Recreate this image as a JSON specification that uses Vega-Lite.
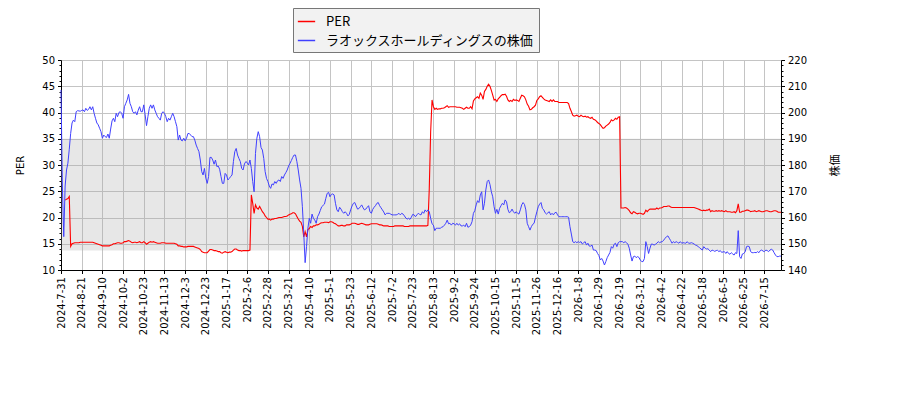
{
"$schema":"https://vega.github.io/schema/vega-lite/v6.json",
"width":720,"height":210,
"autosize":{"type":"none"},
"padding":{"left":61,"top":60,"right":119,"bottom":130},
"background":"white",
"config":{"font":"DejaVu Sans","view":{"stroke":null},
"axis":{"labelFont":"DejaVu Sans","labelFontSize":10,"labelColor":"#000","titleFont":"DejaVu Sans, Noto Sans CJK JP","titleFontSize":10,"titleFontWeight":"normal","titleColor":"#000","tickColor":"#000","domainColor":"#000","tickSize":3.5,"labelPadding":3,"gridColor":"#c4c4c4","gridWidth":1}},
"datasets":{
"band":[{"x0":0,"x1":522,"lo":13.7,"hi":35}],
"series":[
{"day":0,"per":null,"price":208.6},{"day":1,"per":null,"price":172},{"day":2,"per":null,"price":152.7},{"day":3,"per":23.3,"price":172},{"day":4,"per":23.5,"price":178.1},{"day":5,"per":23.6,"price":180.7},{"day":6,"per":24.0,"price":186.0},{"day":7,"per":14.5,"price":192.0},{"day":8,"per":15.0,"price":196.0},{"day":9,"per":15.1,"price":197.1},
{"day":10,"per":15.2,"price":196.5},{"day":11,"per":15.2,"price":200.3},{"day":12,"per":15.2,"price":200.7},{"day":13,"per":15.2,"price":200.6},{"day":14,"per":15.3,"price":200.5},{"day":15,"per":15.3,"price":200.8},{"day":16,"per":15.3,"price":201.0},{"day":17,"per":15.3,"price":200.3},{"day":18,"per":15.3,"price":201.6},{"day":19,"per":15.3,"price":200.8},
{"day":20,"per":15.3,"price":201.2},{"day":21,"per":15.3,"price":202.2},{"day":22,"per":15.3,"price":201.0},{"day":23,"per":15.3,"price":202.2},{"day":24,"per":15.2,"price":199.7},{"day":25,"per":15.1,"price":197.8},{"day":26,"per":15.0,"price":196.0},{"day":27,"per":14.9,"price":195.3},{"day":28,"per":14.8,"price":194.0},{"day":29,"per":14.7,"price":192.7},
{"day":30,"per":14.6,"price":190.2},{"day":31,"per":14.6,"price":191.4},{"day":32,"per":14.6,"price":190.8},{"day":33,"per":14.6,"price":190.5},{"day":34,"per":14.6,"price":191.8},{"day":35,"per":14.6,"price":190.2},{"day":36,"per":14.7,"price":193.7},{"day":37,"per":14.8,"price":196.8},{"day":38,"per":15.0,"price":197.8},{"day":39,"per":15.0,"price":196.5},
{"day":40,"per":15.1,"price":199.7},{"day":41,"per":15.2,"price":198.4},{"day":42,"per":15.2,"price":200.0},{"day":43,"per":15.1,"price":200.3},{"day":44,"per":15.1,"price":199.7},{"day":45,"per":15.2,"price":197.8},{"day":46,"per":15.4,"price":202.2},{"day":47,"per":15.4,"price":203.5},{"day":48,"per":15.5,"price":204.8},{"day":49,"per":15.6,"price":206.9},
{"day":50,"per":15.5,"price":203.5},{"day":51,"per":15.3,"price":202.2},{"day":52,"per":15.2,"price":200.3},{"day":53,"per":15.3,"price":199.7},{"day":54,"per":15.3,"price":200.3},{"day":55,"per":15.2,"price":199.1},{"day":56,"per":15.3,"price":200.9},{"day":57,"per":15.4,"price":202.2},{"day":58,"per":15.2,"price":200.3},{"day":59,"per":15.2,"price":200.3},
{"day":60,"per":15.4,"price":202.9},{"day":61,"per":15.2,"price":199.1},{"day":62,"per":14.9,"price":195.0},{"day":63,"per":15.1,"price":198.4},{"day":64,"per":15.3,"price":201.6},{"day":65,"per":15.4,"price":202.9},{"day":66,"per":15.3,"price":201.6},{"day":67,"per":15.4,"price":202.9},{"day":68,"per":15.3,"price":201.0},{"day":69,"per":15.2,"price":199.7},
{"day":70,"per":15.1,"price":198.4},{"day":71,"per":15.1,"price":197.8},{"day":72,"per":15.1,"price":197.1},{"day":73,"per":15.2,"price":199.7},{"day":74,"per":15.2,"price":200.3},{"day":75,"per":15.2,"price":199.7},{"day":76,"per":15.1,"price":198.4},{"day":77,"per":15.1,"price":196.5},{"day":78,"per":15.1,"price":197.8},{"day":79,"per":15.1,"price":197.1},
{"day":80,"per":15.1,"price":198.4},{"day":81,"per":15.1,"price":199.7},{"day":82,"per":15.1,"price":198.4},{"day":83,"per":15.0,"price":196.5},{"day":84,"per":14.9,"price":194.6},{"day":85,"per":14.6,"price":189.5},{"day":86,"per":14.6,"price":191.4},{"day":87,"per":14.5,"price":189.5},{"day":88,"per":14.5,"price":189.2},{"day":89,"per":14.4,"price":190.2},
{"day":90,"per":14.4,"price":189.2},{"day":91,"per":14.4,"price":190.2},{"day":92,"per":14.5,"price":192.0},{"day":93,"per":14.5,"price":192.0},{"day":94,"per":14.5,"price":191.4},{"day":95,"per":14.5,"price":190.8},{"day":96,"per":14.5,"price":190.8},{"day":97,"per":14.4,"price":189.5},{"day":98,"per":14.3,"price":187.6},{"day":99,"per":14.2,"price":186.3},
{"day":100,"per":14.1,"price":185.1},{"day":101,"per":13.9,"price":181.9},{"day":102,"per":13.5,"price":177.5},{"day":103,"per":13.4,"price":176.2},{"day":104,"per":13.3,"price":178.7},{"day":105,"per":13.3,"price":175.0},{"day":106,"per":13.3,"price":173.0},{"day":107,"per":13.6,"price":175.6},{"day":108,"per":13.9,"price":182.9},{"day":109,"per":13.9,"price":182.9},
{"day":110,"per":13.8,"price":181.9},{"day":111,"per":13.7,"price":180.3},{"day":112,"per":13.7,"price":181.9},{"day":113,"per":13.6,"price":179.4},{"day":114,"per":13.5,"price":179.6},{"day":115,"per":13.5,"price":178.4},{"day":116,"per":13.3,"price":175.6},{"day":117,"per":13.2,"price":173.0},{"day":118,"per":13.4,"price":173.0},{"day":119,"per":13.5,"price":176.8},
{"day":120,"per":13.4,"price":176.2},{"day":121,"per":13.3,"price":174.3},{"day":122,"per":13.4,"price":174.9},{"day":123,"per":13.4,"price":175.6},{"day":124,"per":13.5,"price":176.2},{"day":125,"per":13.8,"price":181.3},{"day":126,"per":14.0,"price":185.1},{"day":127,"per":14.0,"price":186.3},{"day":128,"per":13.8,"price":183.8},{"day":129,"per":13.7,"price":182.5},
{"day":130,"per":13.7,"price":181.3},{"day":131,"per":13.6,"price":178.7},{"day":132,"per":13.7,"price":178.1},{"day":133,"per":13.7,"price":180.4},{"day":134,"per":13.7,"price":181.3},{"day":135,"per":13.7,"price":180.9},{"day":136,"per":13.7,"price":180.0},{"day":137,"per":13.8,"price":181.9},{"day":138,"per":24.3,"price":178.7},{"day":139,"per":22.7,"price":173.7},
{"day":140,"per":20.8,"price":169.8},{"day":141,"per":22.4,"price":184.4},{"day":142,"per":21.8,"price":190.2},{"day":143,"per":21.6,"price":192.7},{"day":144,"per":22.1,"price":190.8},{"day":145,"per":21.6,"price":186.7},{"day":146,"per":21.1,"price":185.7},{"day":147,"per":20.8,"price":182.5},{"day":148,"per":20.3,"price":177.5},{"day":149,"per":20.0,"price":174.9},
{"day":150,"per":19.7,"price":173.7},{"day":151,"per":19.7,"price":172.0},{"day":152,"per":19.5,"price":171.1},{"day":153,"per":19.7,"price":172.8},{"day":154,"per":19.7,"price":172.4},{"day":155,"per":19.8,"price":173.7},{"day":156,"per":19.8,"price":173.0},{"day":157,"per":19.9,"price":174.0},{"day":158,"per":20.0,"price":174.3},{"day":159,"per":20.0,"price":173.7},
{"day":160,"per":20.0,"price":175.6},{"day":161,"per":20.1,"price":174.9},{"day":162,"per":20.2,"price":176.2},{"day":163,"per":20.2,"price":177.1},{"day":164,"per":20.3,"price":178.1},{"day":165,"per":20.5,"price":179.6},{"day":166,"per":20.6,"price":180.6},{"day":167,"per":20.7,"price":181.7},{"day":168,"per":20.9,"price":182.9},{"day":169,"per":20.9,"price":183.8},
{"day":170,"per":20.7,"price":183.8},{"day":171,"per":20.2,"price":181.3},{"day":172,"per":19.7,"price":178.1},{"day":173,"per":19.3,"price":174.3},{"day":174,"per":19.1,"price":171.1},{"day":175,"per":18.3,"price":164.1},{"day":176,"per":16.3,"price":154.0},{"day":177,"per":17.3,"price":142.8},{"day":178,"per":16.3,"price":148.9},{"day":179,"per":17.7,"price":155.9},
{"day":180,"per":17.9,"price":159.7},{"day":181,"per":18.3,"price":157.8},{"day":182,"per":18.1,"price":161.3},{"day":183,"per":18.4,"price":159.7},{"day":184,"per":18.4,"price":159.0},{"day":185,"per":18.6,"price":157.8},{"day":186,"per":18.6,"price":160.3},{"day":187,"per":18.7,"price":161.3},{"day":188,"per":18.9,"price":162.7},{"day":189,"per":19.0,"price":164.1},
{"day":190,"per":19.0,"price":164.6},{"day":191,"per":19.1,"price":165.1},{"day":192,"per":19.1,"price":167.3},{"day":193,"per":19.1,"price":169.2},{"day":194,"per":19.0,"price":169.6},{"day":195,"per":19.2,"price":167.9},{"day":196,"per":19.2,"price":168.8},{"day":197,"per":19.1,"price":169.0},{"day":198,"per":18.9,"price":168.6},{"day":199,"per":18.8,"price":165.4},
{"day":200,"per":18.6,"price":162.9},{"day":201,"per":18.4,"price":162.2},{"day":202,"per":18.4,"price":163.9},{"day":203,"per":18.5,"price":163.2},{"day":204,"per":18.5,"price":162.2},{"day":205,"per":18.4,"price":161.6},{"day":206,"per":18.4,"price":162.2},{"day":207,"per":18.6,"price":161.6},{"day":208,"per":18.6,"price":160.6},{"day":209,"per":18.6,"price":161.2},
{"day":210,"per":18.7,"price":162.9},{"day":211,"per":18.9,"price":164.4},{"day":212,"per":18.9,"price":165.4},{"day":213,"per":18.9,"price":165.7},{"day":214,"per":18.8,"price":164.4},{"day":215,"per":18.7,"price":163.2},{"day":216,"per":18.7,"price":163.4},{"day":217,"per":18.8,"price":164.1},{"day":218,"per":18.9,"price":164.8},{"day":219,"per":18.8,"price":163.7},
{"day":220,"per":18.7,"price":162.9},{"day":221,"per":18.6,"price":163.2},{"day":222,"per":18.6,"price":163.9},{"day":223,"per":18.6,"price":164.5},{"day":224,"per":18.7,"price":162.2},{"day":225,"per":18.8,"price":161.6},{"day":226,"per":18.8,"price":163.1},{"day":227,"per":18.8,"price":163.9},{"day":228,"per":18.8,"price":164.5},{"day":229,"per":18.8,"price":165.4},
{"day":230,"per":18.7,"price":165.7},{"day":231,"per":18.6,"price":164.5},{"day":232,"per":18.6,"price":163.7},{"day":233,"per":18.5,"price":162.9},{"day":234,"per":18.4,"price":162.1},{"day":235,"per":18.4,"price":161.0},{"day":236,"per":18.4,"price":161.6},{"day":237,"per":18.4,"price":161.6},{"day":238,"per":18.3,"price":161.6},{"day":239,"per":18.3,"price":161.3},
{"day":240,"per":18.3,"price":161.0},{"day":241,"per":18.3,"price":161.0},{"day":242,"per":18.4,"price":161.0},{"day":243,"per":18.4,"price":161.0},{"day":244,"per":18.4,"price":161.2},{"day":245,"per":18.4,"price":161.6},{"day":246,"per":18.4,"price":161.0},{"day":247,"per":18.4,"price":161.6},{"day":248,"per":18.4,"price":161.3},{"day":249,"per":18.3,"price":160.6},
{"day":250,"per":18.3,"price":159.8},{"day":251,"per":18.3,"price":159.4},{"day":252,"per":18.3,"price":159.7},{"day":253,"per":18.4,"price":159.3},{"day":254,"per":18.4,"price":160.1},{"day":255,"per":18.4,"price":161.2},{"day":256,"per":18.4,"price":161.0},{"day":257,"per":18.4,"price":160.3},{"day":258,"per":18.4,"price":161.0},{"day":259,"per":18.4,"price":161.6},
{"day":260,"per":18.4,"price":161.2},{"day":261,"per":18.4,"price":161.0},{"day":262,"per":18.4,"price":162.2},{"day":263,"per":18.4,"price":161.6},{"day":264,"per":18.4,"price":162.9},{"day":265,"per":18.4,"price":162.2},{"day":266,"per":18.5,"price":162.9},{"day":267,"per":25.5,"price":162.2},{"day":268,"per":36.3,"price":159.7},{"day":269,"per":42.4,"price":157.6},
{"day":270,"per":41.1,"price":157.1},{"day":271,"per":40.6,"price":155.0},{"day":272,"per":40.8,"price":155.9},{"day":273,"per":40.6,"price":155.9},{"day":274,"per":40.7,"price":155.9},{"day":275,"per":40.7,"price":155.9},{"day":276,"per":40.8,"price":156.3},{"day":277,"per":40.8,"price":156.5},{"day":278,"per":40.9,"price":157.1},{"day":279,"per":41.1,"price":157.8},
{"day":280,"per":41.3,"price":159.0},{"day":281,"per":41.0,"price":157.6},{"day":282,"per":41.1,"price":157.8},{"day":283,"per":41.1,"price":157.1},{"day":284,"per":41.1,"price":157.8},{"day":285,"per":41.1,"price":157.6},{"day":286,"per":41.1,"price":157.1},{"day":287,"per":41.0,"price":157.8},{"day":288,"per":41.0,"price":157.1},{"day":289,"per":41.0,"price":157.6},
{"day":290,"per":40.9,"price":156.8},{"day":291,"per":40.8,"price":156.8},{"day":292,"per":40.6,"price":157.1},{"day":293,"per":40.8,"price":156.5},{"day":294,"per":41.0,"price":157.8},{"day":295,"per":40.8,"price":156.3},{"day":296,"per":40.8,"price":156.5},{"day":297,"per":41.1,"price":157.1},{"day":298,"per":40.7,"price":158.4},{"day":299,"per":42.2,"price":161.6},
{"day":300,"per":42.6,"price":162.6},{"day":301,"per":42.8,"price":164.8},{"day":302,"per":43.0,"price":166.4},{"day":303,"per":42.7,"price":165.7},{"day":304,"per":43.7,"price":168.6},{"day":305,"per":43.3,"price":169.8},{"day":306,"per":42.5,"price":162.9},{"day":307,"per":44.0,"price":165.4},{"day":308,"per":44.4,"price":170.5},{"day":309,"per":45.0,"price":173.7},
{"day":310,"per":45.4,"price":174.3},{"day":311,"per":45.0,"price":172.6},{"day":312,"per":44.2,"price":169.8},{"day":313,"per":43.3,"price":167.9},{"day":314,"per":42.4,"price":164.1},{"day":315,"per":42.5,"price":161.6},{"day":316,"per":42.1,"price":163.1},{"day":317,"per":42.6,"price":161.3},{"day":318,"per":42.9,"price":163.5},{"day":319,"per":43.2,"price":164.5},
{"day":320,"per":43.4,"price":165.4},{"day":321,"per":43.4,"price":164.8},{"day":322,"per":43.5,"price":166.7},{"day":323,"per":43.1,"price":166.0},{"day":324,"per":42.4,"price":163.1},{"day":325,"per":42.1,"price":161.8},{"day":326,"per":42.3,"price":162.2},{"day":327,"per":42.1,"price":163.2},{"day":328,"per":42.5,"price":162.2},{"day":329,"per":42.3,"price":161.6},
{"day":330,"per":42.4,"price":162.2},{"day":331,"per":42.3,"price":161.6},{"day":332,"per":42.1,"price":161.3},{"day":333,"per":42.7,"price":162.9},{"day":334,"per":43.3,"price":164.8},{"day":335,"per":43.2,"price":165.7},{"day":336,"per":43.0,"price":165.0},{"day":337,"per":42.4,"price":162.9},{"day":338,"per":41.6,"price":157.8},{"day":339,"per":41.2,"price":156.5},
{"day":340,"per":40.5,"price":155.2},{"day":341,"per":40.6,"price":156.5},{"day":342,"per":40.9,"price":157.4},{"day":343,"per":41.1,"price":157.8},{"day":344,"per":41.4,"price":160.1},{"day":345,"per":42.3,"price":162.2},{"day":346,"per":42.6,"price":164.1},{"day":347,"per":43.0,"price":165.1},{"day":348,"per":43.2,"price":165.7},{"day":349,"per":42.9,"price":163.5},
{"day":350,"per":42.6,"price":162.9},{"day":351,"per":42.4,"price":161.8},{"day":352,"per":42.3,"price":161.3},{"day":353,"per":42.2,"price":161.8},{"day":354,"per":42.1,"price":162.2},{"day":355,"per":42.4,"price":161.0},{"day":356,"per":42.1,"price":161.6},{"day":357,"per":42.4,"price":161.0},{"day":358,"per":42.1,"price":161.8},{"day":359,"per":42.1,"price":162.0},
{"day":360,"per":42.1,"price":161.0},{"day":361,"per":41.9,"price":160.3},{"day":362,"per":41.9,"price":160.3},{"day":363,"per":41.9,"price":160.3},{"day":364,"per":41.9,"price":160.3},{"day":365,"per":41.9,"price":160.3},{"day":366,"per":41.9,"price":160.3},{"day":367,"per":41.9,"price":160.3},{"day":368,"per":41.7,"price":160.1},{"day":369,"per":40.8,"price":156.5},
{"day":370,"per":40.2,"price":153.7},{"day":371,"per":39.5,"price":150.8},{"day":372,"per":39.3,"price":150.4},{"day":373,"per":39.4,"price":150.8},{"day":374,"per":39.5,"price":150.4},{"day":375,"per":39.3,"price":150.8},{"day":376,"per":39.2,"price":150.5},{"day":377,"per":39.5,"price":150.8},{"day":378,"per":39.3,"price":149.9},{"day":379,"per":39.2,"price":150.4},
{"day":380,"per":39.3,"price":150.8},{"day":381,"per":39.1,"price":149.5},{"day":382,"per":39.2,"price":150.2},{"day":383,"per":39.0,"price":149.1},{"day":384,"per":38.9,"price":149.1},{"day":385,"per":39.1,"price":149.5},{"day":386,"per":38.7,"price":147.6},{"day":387,"per":38.6,"price":147.6},{"day":388,"per":38.4,"price":147.4},{"day":389,"per":38.1,"price":146.3},
{"day":390,"per":37.9,"price":145.5},{"day":391,"per":37.7,"price":143.8},{"day":392,"per":37.3,"price":144.4},{"day":393,"per":37.0,"price":143.4},{"day":394,"per":37.1,"price":141.9},{"day":395,"per":37.4,"price":143.2},{"day":396,"per":37.6,"price":144.7},{"day":397,"per":37.8,"price":145.7},{"day":398,"per":38.1,"price":146.7},{"day":399,"per":38.6,"price":148.9},
{"day":400,"per":38.4,"price":148.3},{"day":401,"per":38.6,"price":149.8},{"day":402,"per":38.9,"price":150.2},{"day":403,"per":38.7,"price":148.9},{"day":404,"per":39.1,"price":150.4},{"day":405,"per":39.2,"price":150.8},{"day":406,"per":21.8,"price":150.8},{"day":407,"per":21.8,"price":150.8},{"day":408,"per":21.8,"price":150.4},{"day":409,"per":21.9,"price":150.8},
{"day":410,"per":21.8,"price":150.4},{"day":411,"per":21.6,"price":149.8},{"day":412,"per":21.3,"price":148.3},{"day":413,"per":20.9,"price":145.7},{"day":414,"per":20.7,"price":143.4},{"day":415,"per":21.1,"price":145.1},{"day":416,"per":21.0,"price":145.3},{"day":417,"per":20.8,"price":144.7},{"day":418,"per":20.7,"price":145.1},{"day":419,"per":20.8,"price":144.8},
{"day":420,"per":20.8,"price":143.8},{"day":421,"per":20.7,"price":143.2},{"day":422,"per":20.6,"price":143.2},{"day":423,"per":20.8,"price":144.4},{"day":424,"per":21.4,"price":150.8},{"day":425,"per":21.1,"price":148.9},{"day":426,"per":21.4,"price":146.3},{"day":427,"per":21.6,"price":148.3},{"day":428,"per":21.6,"price":149.9},{"day":429,"per":21.6,"price":149.8},
{"day":430,"per":21.6,"price":149.5},{"day":431,"per":21.6,"price":149.8},{"day":432,"per":21.8,"price":150.2},{"day":433,"per":21.6,"price":150.8},{"day":434,"per":21.8,"price":150.4},{"day":435,"per":21.8,"price":150.7},{"day":436,"per":21.9,"price":150.8},{"day":437,"per":22.1,"price":151.4},{"day":438,"per":22.1,"price":152.1},{"day":439,"per":22.1,"price":152.7},
{"day":440,"per":22.2,"price":153.0},{"day":441,"per":22.2,"price":152.1},{"day":442,"per":22.0,"price":151.2},{"day":443,"per":21.9,"price":150.2},{"day":444,"per":21.9,"price":150.8},{"day":445,"per":21.9,"price":150.4},{"day":446,"per":21.9,"price":150.8},{"day":447,"per":21.9,"price":150.5},{"day":448,"per":21.9,"price":150.2},{"day":449,"per":21.9,"price":150.8},
{"day":450,"per":21.9,"price":150.2},{"day":451,"per":21.9,"price":150.4},{"day":452,"per":21.9,"price":150.3},{"day":453,"per":21.9,"price":150.2},{"day":454,"per":21.9,"price":150.8},{"day":455,"per":21.9,"price":150.2},{"day":456,"per":21.9,"price":150.2},{"day":457,"per":21.9,"price":150.4},{"day":458,"per":21.9,"price":150.2},{"day":459,"per":21.9,"price":149.9},
{"day":460,"per":21.8,"price":149.5},{"day":461,"per":21.7,"price":149.3},{"day":462,"per":21.6,"price":148.9},{"day":463,"per":21.5,"price":148.5},{"day":464,"per":21.4,"price":148.0},{"day":465,"per":21.3,"price":147.6},{"day":466,"per":21.4,"price":148.9},{"day":467,"per":21.3,"price":148.3},{"day":468,"per":21.4,"price":148.0},{"day":469,"per":21.4,"price":148.1},
{"day":470,"per":21.6,"price":147.6},{"day":471,"per":21.1,"price":147.0},{"day":472,"per":21.3,"price":147.6},{"day":473,"per":21.2,"price":147.4},{"day":474,"per":21.2,"price":147.1},{"day":475,"per":21.3,"price":147.4},{"day":476,"per":21.2,"price":147.5},{"day":477,"per":21.3,"price":147.0},{"day":478,"per":21.2,"price":147.4},{"day":479,"per":21.3,"price":146.7},
{"day":480,"per":21.2,"price":146.9},{"day":481,"per":21.1,"price":147.0},{"day":482,"per":21.3,"price":146.3},{"day":483,"per":21.1,"price":147.0},{"day":484,"per":21.1,"price":146.3},{"day":485,"per":21.1,"price":146.0},{"day":486,"per":21.0,"price":146.6},{"day":487,"per":21.0,"price":146.1},{"day":488,"per":21.1,"price":145.7},{"day":489,"per":20.9,"price":146.6},
{"day":490,"per":21.3,"price":146.3},{"day":491,"per":22.6,"price":155.0},{"day":492,"per":21.0,"price":145.1},{"day":493,"per":21.0,"price":144.4},{"day":494,"per":21.2,"price":146.1},{"day":495,"per":21.2,"price":146.3},{"day":496,"per":21.3,"price":146.9},{"day":497,"per":21.4,"price":148.9},{"day":498,"per":21.4,"price":149.1},{"day":499,"per":21.3,"price":148.9},
{"day":500,"per":21.1,"price":147.0},{"day":501,"per":21.2,"price":146.6},{"day":502,"per":21.2,"price":146.6},{"day":503,"per":21.3,"price":146.7},{"day":504,"per":21.1,"price":146.6},{"day":505,"per":21.2,"price":147.0},{"day":506,"per":21.3,"price":146.6},{"day":507,"per":21.2,"price":147.4},{"day":508,"per":21.1,"price":147.6},{"day":509,"per":21.1,"price":147.2},
{"day":510,"per":21.2,"price":147.0},{"day":511,"per":21.3,"price":147.6},{"day":512,"per":21.3,"price":147.4},{"day":513,"per":21.2,"price":147.0},{"day":514,"per":21.1,"price":147.6},{"day":515,"per":21.1,"price":147.9},{"day":516,"per":21.2,"price":147.6},{"day":517,"per":21.3,"price":146.6},{"day":518,"per":21.3,"price":145.7},{"day":519,"per":21.2,"price":145.1},
{"day":520,"per":21.0,"price":145.1},{"day":521,"per":21.0,"price":145.3},{"day":522,"per":21.0,"price":145.3}
]},
"layer":[
{"data":{"name":"band"},
 "mark":{"type":"rect","fill":"#a8a8a8","opacity":0.28},
 "encoding":{
  "x":{"field":"x0","type":"quantitative","scale":{"domain":[0,522],"nice":false,"zero":false},
       "axis":{"title":null,"values":[0,15,30,45,60,75,90,105,120,135,150,165,180,195,210,225,240,255,270,285,300,315,330,345,360,375,390,405,420,435,450,465,480,495,510],"tickCount":60,
       "labelExpr":"['2024-7-31','2024-8-21','2024-9-10','2024-10-2','2024-10-23','2024-11-13','2024-12-3','2024-12-23','2025-1-17','2025-2-6','2025-2-28','2025-3-21','2025-4-10','2025-5-1','2025-5-23','2025-6-12','2025-7-2','2025-7-23','2025-8-13','2025-9-2','2025-9-24','2025-10-15','2025-11-5','2025-11-26','2025-12-16','2026-1-8','2026-1-29','2026-2-19','2026-3-12','2026-4-2','2026-4-22','2026-5-18','2026-6-5','2026-6-25','2026-7-15'][round(datum.value/15)]",
       "labelAngle":-90,"grid":true,"labelOverlap":false,"labelFlush":false}},
  "x2":{"field":"x1"},
  "y":{"field":"lo","type":"quantitative","scale":{"domain":[10,50],"nice":false,"zero":false},
       "axis":{"orient":"left","title":null,"values":[11,12,13,14,16,17,18,19,21,22,23,24,26,27,28,29,31,32,33,34,36,37,38,39,41,42,43,44,46,47,48,49],"tickCount":60,"labels":false,"domain":false,"grid":false,"tickSize":2}},
  "y2":{"field":"hi"}}},
{"data":{"name":"series"},
 "transform":[{"filter":"isValid(datum.per)"}],
 "mark":{"type":"line","strokeWidth":1.1},
 "encoding":{
  "x":{"field":"day","type":"quantitative","scale":{"domain":[0,522],"nice":false,"zero":false}},
  "y":{"field":"per","type":"quantitative","scale":{"domain":[10,50],"nice":false,"zero":false},
       "axis":{"orient":"left","title":"PER","values":[10,15,20,25,30,35,40,45,50],"tickCount":20,"grid":true,"titlePadding":16}},
  "color":{"datum":"PER","type":"nominal",
       "scale":{"domain":["PER","ラオックスホールディングスの株価"],"range":["#ff0000","#4040ff"]},
       "legend":{"title":null,"orient":"none","legendX":232,"legendY":-52,"symbolType":"stroke","symbolStrokeWidth":1.5,"symbolSize":300,"labelFont":"Noto Sans CJK JP","labelFontSize":13,"labelColor":"#000","labelLimit":0,"fillColor":"#f2f2f2","strokeColor":"#777777","padding":4,"rowPadding":2,"labelOffset":10}}}},
{"data":{"name":"series"},
 "mark":{"type":"line","strokeWidth":1},
 "encoding":{
  "x":{"field":"day","type":"quantitative","scale":{"domain":[0,522],"nice":false,"zero":false}},
  "y":{"field":"price","type":"quantitative","scale":{"domain":[140,220],"nice":false,"zero":false},
       "axis":{"orient":"right","title":"株価","titleAngle":-90,"titleFontSize":11,"values":[140,150,160,170,180,190,200,210,220],"tickCount":20,"grid":false,"titlePadding":34}},
  "color":{"datum":"ラオックスホールディングスの株価","type":"nominal"}}},
{"data":{"name":"band"},
 "mark":{"type":"rule","opacity":0},
 "encoding":{
  "y":{"field":"lo","type":"quantitative","scale":{"domain":[140,220],"nice":false,"zero":false},
       "axis":{"orient":"right","title":null,"values":[142,144,146,148,152,154,156,158,162,164,166,168,172,174,176,178,182,184,186,188,192,194,196,198,202,204,206,208,212,214,216,218],"tickCount":60,"labels":false,"domain":false,"grid":false,"tickSize":2}}}}
],
"resolve":{"scale":{"y":"independent"},"axis":{"y":"independent"}}
}
